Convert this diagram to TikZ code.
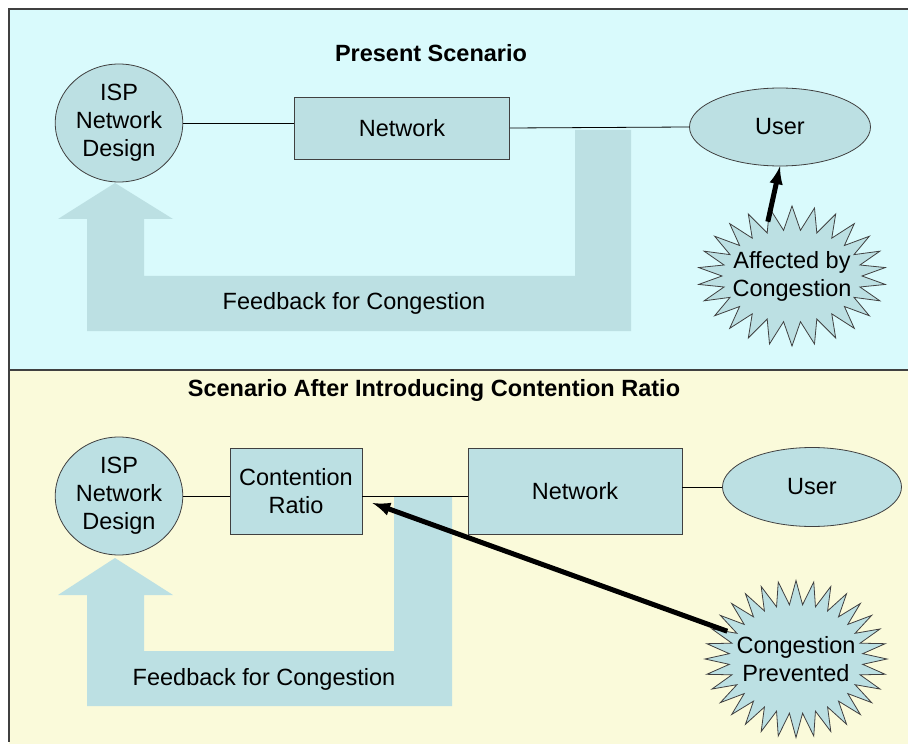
\documentclass[tikz,border=0pt]{standalone}
\usepackage{fontspec}
\setmainfont{Liberation Sans}
\usetikzlibrary{arrows,calc,shapes.geometric,shapes.symbols}

\definecolor{skyband}{HTML}{D9FAFC}
\definecolor{creamband}{HTML}{FAFADA}
\definecolor{nodefill}{HTML}{BCE0E3}
\definecolor{rulegray}{HTML}{404040}

\begin{document}
\begin{tikzpicture}[
  x=1pt, y=-1pt,
  font=\fontsize{23.5}{28}\selectfont,
  blk/.style   = {draw=black!75, line width=0.8pt, fill=nodefill, align=center,
                  inner sep=2pt},
  isp/.style   = {blk, ellipse, minimum width=124pt, minimum height=118pt},
  netbox/.style= {blk, rectangle},
  usr/.style   = {blk, ellipse, minimum width=181pt, minimum height=78pt},
  burst/.style = {blk, starburst, random starburst=0, inner xsep=-14pt,
                  inner ysep=0pt, starburst point height=24pt},
  ttl/.style   = {font=\fontsize{23.5}{28}\selectfont\bfseries},
  ln/.style    = {line width=0.8pt},
  ar/.style    = {-latex, line width=5pt},
  fb/.style    = {fill=nodefill},
]

% =========================== panels ========================================
\useasboundingbox (0,0) rectangle (908,746);
\fill[white]     (0,0) rectangle (908,746);
\fill[skyband]   (9,9) rectangle (908,369);
\fill[creamband] (9,370) rectangle (908,744);
\draw[rulegray, line width=1.5pt] (908,9) -- (9,9) -- (9,742);
\draw[rulegray, line width=2pt] (9,369.5) -- (908,369.5);

% =========================== feedback bands ================================
\fill[fb] (575,130) -- (631,130) -- (631,331) -- (87,331) -- (87,219)
  -- (58,219) -- (115,183) -- (173,219) -- (144,219) -- (144,276)
  -- (575,276) -- cycle;
\fill[fb] (394,497) -- (452,497) -- (452,706) -- (87,706) -- (87,595)
  -- (58,595) -- (115,558) -- (173,595) -- (144,595) -- (144,651)
  -- (394,651) -- cycle;

% =========================== present scenario ==============================
\node[ttl] (ttlA) at (431,53) {Present Scenario};

\node[isp] (ispA) at (119,123) {ISP\\Network\\Design};
\node[netbox, minimum width=215pt, minimum height=62pt] (netA) at (402,128) {Network};
\node[usr] (usrA) at (780,127) {User};
\node[burst, minimum width=188pt, minimum height=140pt, starburst points=26]
  (hitA) at (792,276) {Affected by\\Congestion};

\node (fbA) at (354,303) {Feedback for Congestion};

\draw[ln] (ispA.east) -- (ispA.east -| netA.west);
\draw[ln] (netA.east) -- (usrA.west);
\draw[ar] (hitA.114) -- (usrA.south);

% =========================== with contention ratio =========================
\node[ttl] (ttlB) at (434,390) {Scenario After Introducing Contention Ratio};

\node[isp] (ispB) at (119,496) {ISP\\Network\\Design};
\node[netbox, minimum width=132pt, minimum height=86pt] (crB) at (296,491) {Contention\\Ratio};
\node[netbox, minimum width=214pt, minimum height=86pt] (netB) at (575,491) {Network};
\node[usr, minimum width=179pt, minimum height=79pt] (usrB) at (812,487) {User};
\node[burst, minimum width=182pt, minimum height=157pt, starburst points=32]
  (hitB) at (796,659) {Congestion\\Prevented};

\node (fbB) at (264,679) {Feedback for Congestion};

\draw[ln] (ispB.east) -- (ispB.east -| crB.west);
\draw[ln] (crB.east |- ispB.east) -- (ispB.east -| netB.west);
\draw[ln] (netB.east |- usrB.west) -- (usrB.west);
\draw[ar] (hitB.158) -- ([xshift=10pt,yshift=-12pt]crB.east);

\end{tikzpicture}
\end{document}
